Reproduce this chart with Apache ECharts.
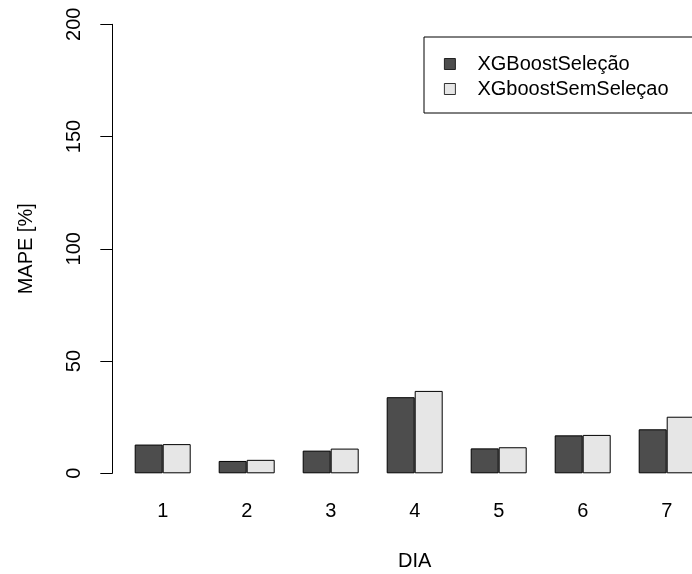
<!DOCTYPE html>
<html>
<head>
<meta charset="utf-8">
<script src="https://cdn.jsdelivr.net/npm/echarts@6/dist/echarts.min.js"></script>
<style>
  html, body { margin: 0; padding: 0; background: #fff; }
  #chart { width: 692px; height: 574px; }
</style>
</head>
<body>
<div id="chart"></div>
<script>
const dias = ['1', '2', '3', '4', '5', '6', '7'];
const comSelecao = [12.8, 5.5, 10.1, 33.9, 11.1, 16.9, 19.6];
const semSelecao = [13.0, 6.0, 11.0, 36.7, 11.6, 17.1, 25.2];
const yTicks = [0, 50, 100, 150, 200];

const font = '"Liberation Sans", Arial, Helvetica, sans-serif';
const chart = echarts.init(document.getElementById('chart'));

chart.setOption({
    backgroundColor: '#fff',
    animation: false,
    textStyle: { fontFamily: font, color: '#000' },
    grid: { left: 120.7, top: 24.3, width: 588, height: 449, outerBoundsMode: 'none' },
    legend: {
        orient: 'vertical',
        left: 424,
        top: 37,
        padding: [15, 40, 12, 20],
        itemWidth: 11,
        itemHeight: 11,
        itemGap: 1,
        borderColor: '#000',
        borderWidth: 1,
        icon: 'rect',
        itemStyle: { borderColor: '#000', borderWidth: 0.8 },
        textStyle: { fontSize: 20, color: '#000', fontFamily: font, lineHeight: 24, padding: [0, 0, 0, 17] },
        data: ['XGBoostSeleção', 'XGboostSemSeleçao']
    },
    xAxis: {
        type: 'category',
        data: dias,
        name: 'DIA',
        nameLocation: 'middle',
        nameGap: 78,
        nameTextStyle: { fontSize: 20, color: '#000' },
        axisLine: { show: false },
        axisTick: { show: false },
        axisLabel: { fontSize: 20, color: '#000', margin: 28 }
    },
    yAxis: {
        type: 'value',
        min: 0,
        max: 200,
        interval: 50,
        offset: 8.4,
        name: 'MAPE [%]',
        nameLocation: 'middle',
        nameGap: 76,
        nameTextStyle: { fontSize: 20, color: '#000' },
        axisLine: { show: true, lineStyle: { color: '#000', width: 1 } },
        axisTick: { show: true, length: 12, lineStyle: { color: '#000' } },
        axisLabel: {
            fontSize: 20, color: '#000', rotate: 90, margin: 28,
            formatter: v => (yTicks.includes(v) ? String(v) : '')
        },
        splitLine: { show: false }
    },
    series: [
        {
            name: 'XGBoostSeleção',
            type: 'bar',
            data: comSelecao,
            barWidth: 28,
            barGap: '0%',
            itemStyle: { color: '#4d4d4d', borderColor: '#000', borderWidth: 1 }
        },
        {
            name: 'XGboostSemSeleçao',
            type: 'bar',
            data: semSelecao,
            barWidth: 28,
            barGap: '0%',
            itemStyle: { color: '#e6e6e6', borderColor: '#000', borderWidth: 1 }
        }
    ]
});
</script>
</body>
</html>
